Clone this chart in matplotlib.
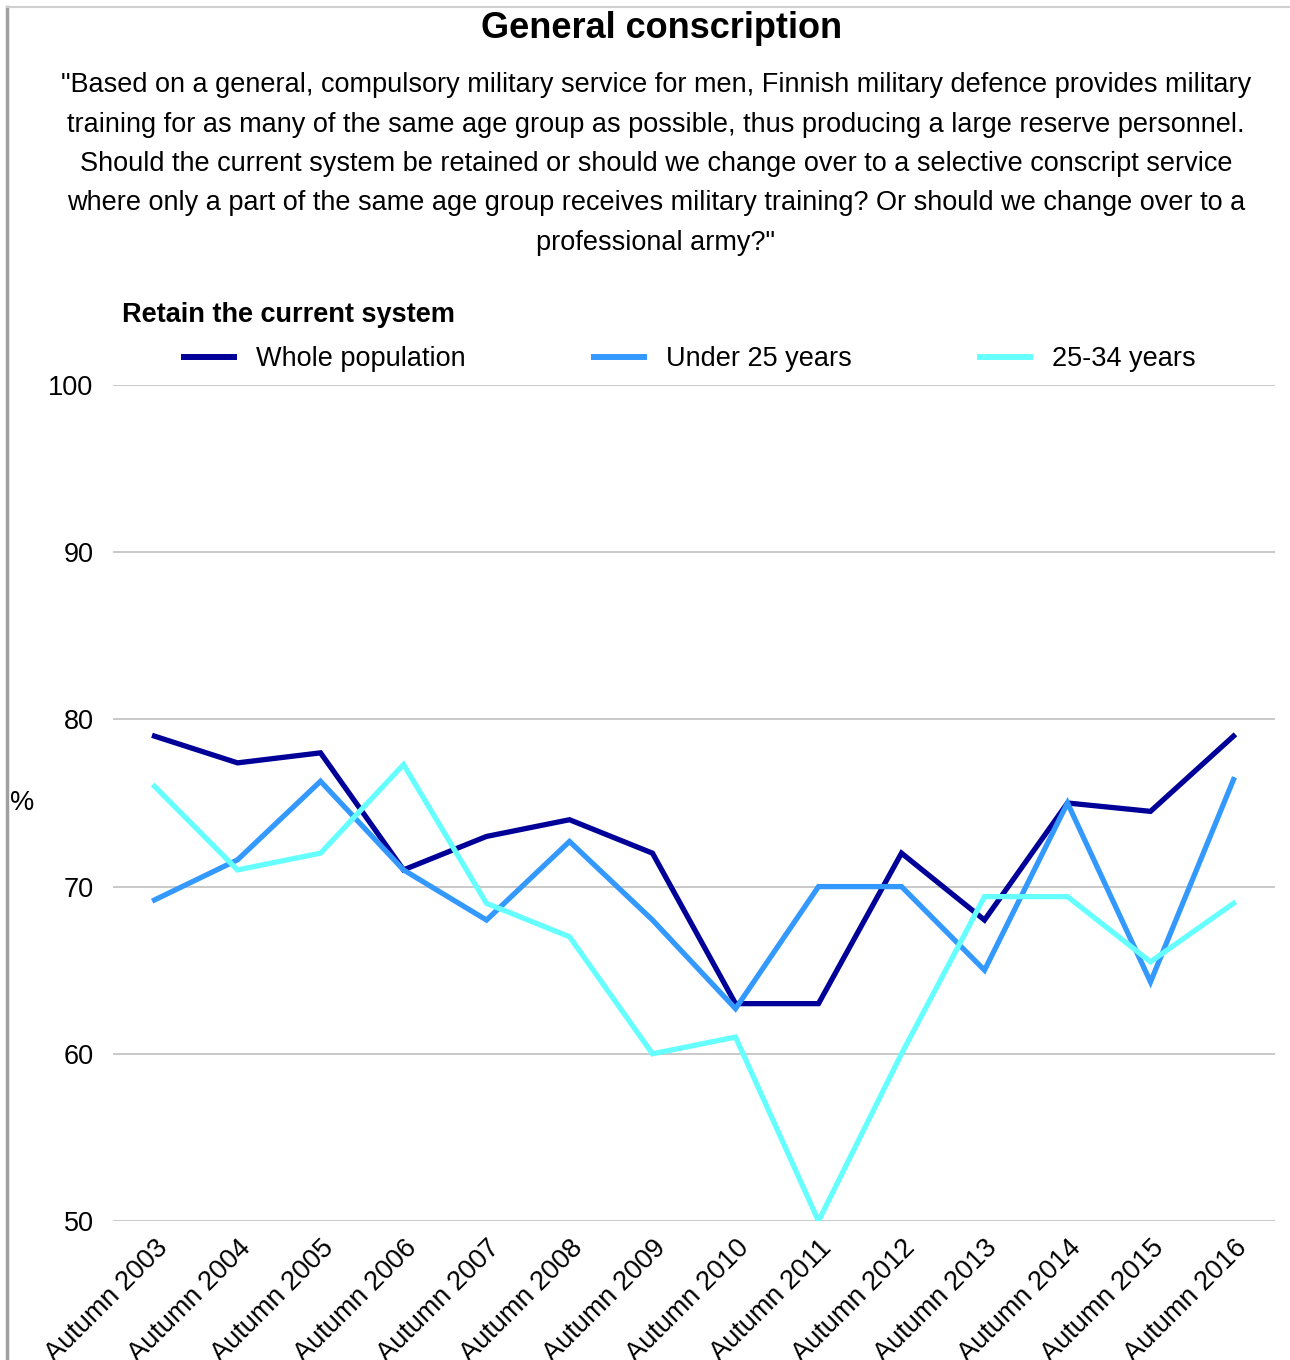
import matplotlib.pyplot as plt
from matplotlib.lines import Line2D

plt.rcParams['font.family'] = ['Liberation Sans', 'DejaVu Sans']

years = ['Autumn 2003', 'Autumn 2004', 'Autumn 2005', 'Autumn 2006', 'Autumn 2007',
         'Autumn 2008', 'Autumn 2009', 'Autumn 2010', 'Autumn 2011', 'Autumn 2012',
         'Autumn 2013', 'Autumn 2014', 'Autumn 2015', 'Autumn 2016']
whole = [79, 77.4, 78, 71, 73, 74, 72, 63, 63, 72, 68, 75, 74.5, 79]
under25 = [69.2, 71.6, 76.3, 71, 68, 72.7, 68, 62.7, 70, 70, 65, 75, 64.3, 76.4]
age25_34 = [76, 71, 72, 77.3, 69, 67, 60, 61, 50, 60, 69.4, 69.4, 65.5, 69]
series_names = ['Whole population', 'Under 25 years', '25-34 years']
colors = ['#000099', '#3399ff', '#66ffff']

subtitle = [
    '"Based on a general, compulsory military service for men, Finnish military defence provides military',
    'training for as many of the same age group as possible, thus producing a large reserve personnel.',
    'Should the current system be retained or should we change over to a selective conscript service',
    'where only a part of the same age group receives military training? Or should we change over to a',
    'professional army?"',
]

FS = 19.5
W, H = 1290, 1360
fig = plt.figure(figsize=(W / 100, H / 100), dpi=100)
ax = fig.add_axes([113 / W, 1 - 1221 / H, (1275 - 113) / W, (1221 - 385) / H])

x = range(len(years))
for vals, c, name in zip([whole, under25, age25_34], colors, series_names):
    ax.plot(x, vals, color=c, lw=3.8, label=name, solid_joinstyle='miter')

ax.set_xlim(-0.5, len(years) - 0.5)
ax.set_ylim(50, 100)
ax.set_yticks([50, 60, 70, 80, 90, 100])
ax.yaxis.grid(True, color='#c0c0c0', lw=1.2)
ax.set_axisbelow(True)
for s in ax.spines.values():
    s.set_visible(False)
ax.tick_params(length=0, labelsize=FS)
ax.tick_params(axis='y', pad=14)
ax.set_xticks(list(x))
ax.set_xticklabels(years, rotation=45, ha='right', rotation_mode='anchor')
ax.tick_params(axis='x', pad=10)

fig.text(22 / W, 1 - 803 / H, '%', fontsize=FS, ha='center', va='center')

fig.text(662 / W, 1 - 28 / H, 'General conscription', fontsize=26, fontweight='bold',
         ha='center', va='center')
for i, line in enumerate(subtitle):
    fig.text(656 / W, 1 - (85.5 + i * 39.3) / H, line, fontsize=FS, ha='center', va='center')

fig.text(122 / W, 1 - 314.5 / H, 'Retain the current system', fontsize=FS, fontweight='bold',
         ha='left', va='center')

handles = [Line2D([], [], color=c, lw=4.3) for c in colors]
fig.legend(handles, series_names, loc='center left', bbox_to_anchor=(184 / W, 1 - 359 / H),
           ncol=3, frameon=False, fontsize=FS, handlelength=1.85, handletextpad=0.8,
           columnspacing=4.75, borderpad=0, borderaxespad=0)

# frame lines on the left and top edge
fig.add_artist(Line2D([7 / W, 7 / W], [0, 1 - 7 / H], color='#a0a0a0', lw=2.5))
fig.add_artist(Line2D([7 / W, 1], [1 - 7 / H, 1 - 7 / H], color='#d0d0d0', lw=1.5))

fig.savefig('out.png', dpi=100)
